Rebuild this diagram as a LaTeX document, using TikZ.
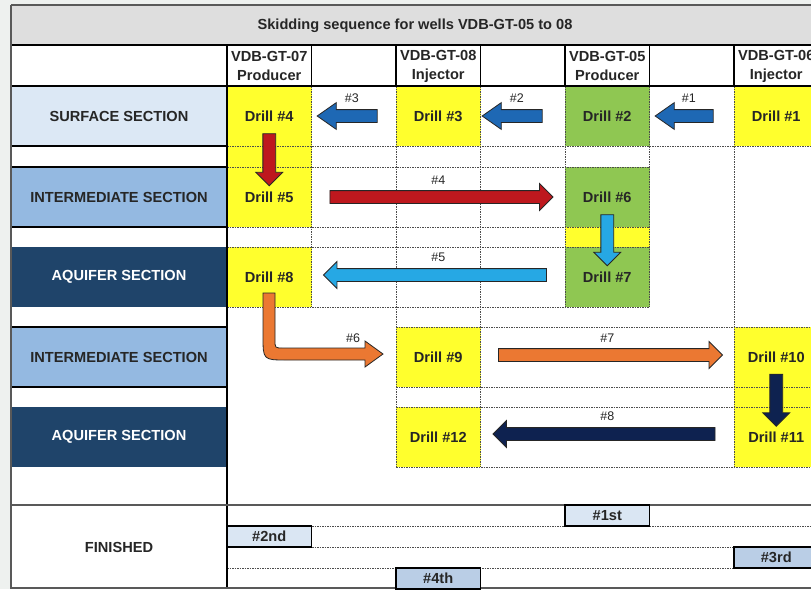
\documentclass[tikz,border=0pt]{standalone}
\usepackage{fontspec}
\setmainfont{Liberation Sans}
\usetikzlibrary{shapes.arrows,calc,positioning}

\definecolor{pagegray}{RGB}{238,241,239}
\definecolor{titlegray}{RGB}{222,222,222}
\definecolor{surfblue}{RGB}{220,232,245}
\definecolor{midblue}{RGB}{148,185,225}
\definecolor{aqblue}{RGB}{31,68,106}
\definecolor{drillyellow}{RGB}{255,255,45}
\definecolor{drillgreen}{RGB}{143,199,82}
\definecolor{arrblue}{RGB}{30,104,180}
\definecolor{arrred}{RGB}{190,24,30}
\definecolor{arrcyan}{RGB}{38,168,228}
\definecolor{arrorange}{RGB}{235,120,50}
\definecolor{arrnavy}{RGB}{14,34,80}
\definecolor{doneblue}{RGB}{218,230,243}
\definecolor{doneblue2}{RGB}{186,206,230}

\tikzset{
  txt/.style={font=\fontsize{14.6}{17}\selectfont\bfseries, text=black!85, inner sep=0pt, outer sep=0pt},
  head/.style={txt, font=\fontsize{14.6}{19}\selectfont\bfseries, align=center},
  sect/.style={txt, anchor=north west, minimum width=216pt, minimum height=60pt},
  drill/.style={txt, anchor=north west, minimum width=84.5pt, minimum height=60pt},
  done/.style={txt, draw=black, line width=1.4pt, anchor=north west, minimum width=84.5pt, minimum height=21pt},
  grid/.style={draw=black!70, line width=0.6pt, dash pattern=on 1.5pt off 1pt},
  rule/.style={draw=black, line width=1.6pt},
  frame/.style={draw=black!65, line width=1.6pt},
  blk/.style={single arrow, draw=black!85, line width=0.8pt, inner xsep=0pt, inner ysep=6pt,
    text height=0pt, text depth=0pt, single arrow head extend=7pt, single arrow head indent=0pt},
  lbl/.style={font=\fontsize{12.5}{12.5}\selectfont, text=black!85, inner sep=0pt}
}

\begin{document}
\begin{tikzpicture}[x=1pt,y=-1pt]
\useasboundingbox (0,0) rectangle (811,589);
\fill[pagegray] (0,0) rectangle (811,589);
\fill[white] (11,5) rectangle (830,589);

% title bar
\fill[titlegray] (11,5) rectangle (830,45);
\node[txt] (title) at (415,26) {Skidding sequence for wells VDB-GT-05 to 08};

% well headers
\node[head] (h7) at (269.25,66) {VDB-GT-07\\Producer};
\node[head] (h8) at (438.25,66) {VDB-GT-08\\Injector};
\node[head] (h5) at (607.25,66) {VDB-GT-05\\Producer};
\node[head] (h6) at (776.25,66) {VDB-GT-06\\Injector};

% sections
\node[sect, fill=surfblue] (s1) at (11,86) {SURFACE SECTION};
\node[sect, fill=midblue] (s2) at (11,167) {INTERMEDIATE SECTION};
\node[sect, fill=aqblue, text=white] (s3) at (11,247) {AQUIFER SECTION};
\node[sect, fill=midblue] (s4) at (11,327) {INTERMEDIATE SECTION};
\node[sect, fill=aqblue, text=white] (s5) at (11,407) {AQUIFER SECTION};
\node[sect, minimum height=84pt] (s6) at (11,505) {FINISHED};

% drills
\node[drill, fill=drillyellow] (d1) at (734,86) {Drill \#1};
\node[drill, fill=drillgreen] (d2) at (565,86) {Drill \#2};
\node[drill, fill=drillyellow] (d3) at (396,86) {Drill \#3};
\node[drill, fill=drillyellow] (d4) at (227,86) {Drill \#4};
\node[drill, fill=drillyellow] (d5) at (227,167) {Drill \#5};
\node[drill, fill=drillgreen] (d6) at (565,167) {Drill \#6};
\node[drill, fill=drillgreen] (d7) at (565,247) {Drill \#7};
\node[drill, fill=drillyellow] (d8) at (227,247) {Drill \#8};
\node[drill, fill=drillyellow] (d9) at (396,327) {Drill \#9};
\node[drill, fill=drillyellow] (d10) at (734,327) {Drill \#10};
\node[drill, fill=drillyellow] (d11) at (734,407) {Drill \#11};
\node[drill, fill=drillyellow] (d12) at (396,407) {Drill \#12};
\fill[drillyellow] (227,146) rectangle (311.5,167);
\fill[drillyellow] (565,227) rectangle (649.5,247);
\fill[drillyellow] (734,387) rectangle (818.5,407);

% dashed grid
\draw[grid] (227,146) -- (830,146);
\foreach \y in {167,227,247,307} \draw[grid] (227,\y) -- (649.5,\y);
\foreach \y in {327,387,407,467} \draw[grid] (396,\y) -- (830,\y);
\foreach \x in {311.5,565,649.5} \draw[grid] (\x,86) -- (\x,307);
\foreach \x in {396,480.5,734} \draw[grid] (\x,86) -- (\x,467);
\foreach \y in {526,547,568} \draw[grid] (227,\y) -- (830,\y);

% solid rules
\draw[rule] (11,45) -- (830,45);
\draw[rule] (11,86) -- (830,86);
\foreach \x in {311.5,396,480.5,565,649.5,734} \draw[rule] (\x,45) -- (\x,86);
\foreach \y in {146,167,227,327,387} \draw[rule] (11,\y) -- (227,\y);
\draw[rule] (227,45) -- (227,589);
\draw[frame] (11,505) -- (830,505);
\draw[frame] (11,588) -- (830,588);
\draw[frame] (11,5) -- (830,5);
\draw[frame] (11,5) -- (11,589);

% finished order
\node[done, fill=doneblue] (f1) at (565,505) {\#1st};
\node[done, fill=doneblue] (f2) at (227,526) {\#2nd};
\node[done, fill=doneblue2] (f3) at (734,547) {\#3rd};
\node[done, fill=doneblue2] (f4) at (396,568) {\#4th};

% skidding arrows
\node[blk, fill=arrblue, shape border rotate=180, minimum height=58pt, single arrow tip angle=70, xshift=-3pt] (a1) at ($(d2.east)!0.5!(d1.west)$) {};
\node[blk, fill=arrblue, shape border rotate=180, minimum height=60pt, single arrow tip angle=70, xshift=-6pt] (a2) at ($(d3.east)!0.5!(d2.west)$) {};
\node[blk, fill=arrblue, shape border rotate=180, minimum height=60pt, single arrow tip angle=70, xshift=-2pt] (a3) at ($(d4.east)!0.5!(d3.west)$) {};
\node[blk, fill=arrred, minimum height=223pt] (a4) at ($(d5.east)!0.5!(d6.west)$) {};
\node[blk, fill=arrcyan, shape border rotate=180, minimum height=223pt, yshift=2pt] (a5) at ($(d8.east)!0.5!(d7.west)$) {};
\node[blk, fill=arrorange, minimum height=224pt, yshift=2pt] (a7) at ($(d9.east)!0.5!(d10.west)$) {};
\node[blk, fill=arrnavy, shape border rotate=180, minimum height=222pt, yshift=3pt] (a8) at ($(d12.east)!0.5!(d11.west)$) {};
\node[blk, fill=arrred, rotate=-90, minimum height=52pt] (v1) at ($(d4.center)!0.5!(d5.center)$) {};
\node[blk, fill=arrcyan, rotate=-90, minimum height=51pt] (v2) at ($(d6.center)!0.5!(d7.center)$) {};
\node[blk, fill=arrnavy, rotate=-90, minimum height=52pt] (v3) at ($(d10.center)!0.5!(d11.center)$) {};
\draw[draw=black!85, line width=0.8pt, fill=arrorange]
  (263,293) -- (263,336) .. controls (263,360) .. (287,360) -- (365,360) -- (365,367)
  -- (383,354) -- (365,341) -- (365,348) -- (283,348) .. controls (275,348) .. (275,340)
  -- (275,293) -- cycle;

% arrow numbers
\node[lbl, above=6pt of a1] (l1) {\#1};
\node[lbl, above=6pt of a2] (l2) {\#2};
\node[lbl, above=6pt of a3] (l3) {\#3};
\node[lbl, above=6pt of a4] (l4) {\#4};
\node[lbl, above=6pt of a5] (l5) {\#5};
\node[lbl] (l6) at (353,338) {\#6};
\node[lbl, above=6pt of a7] (l7) {\#7};
\node[lbl, above=6pt of a8] (l8) {\#8};
\end{tikzpicture}
\end{document}
